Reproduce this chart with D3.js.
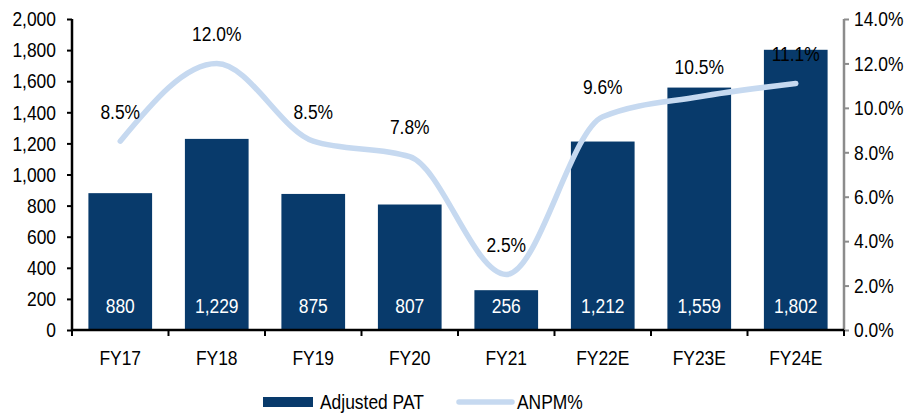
<!DOCTYPE html>
<html>
<head>
<meta charset="utf-8">
<script src="https://cdn.jsdelivr.net/npm/d3@7"></script>
<style>
  html, body { margin: 0; padding: 0; background: #fff; }
  svg { display: block; font-family: "Liberation Sans", Arial, sans-serif; }
</style>
</head>
<body>
<div id="chart"></div>
<script>
(function() {
    'use strict';

    // Data
    var years = ['FY17', 'FY18', 'FY19', 'FY20', 'FY21', 'FY22E', 'FY23E', 'FY24E'];
    var adjustedPat = [880, 1229, 875, 807, 256, 1212, 1559, 1802];
    var anpm = [8.5, 12.0, 8.5, 7.8, 2.5, 9.6, 10.5, 11.1];
    var leftTicks = [0, 200, 400, 600, 800, 1000, 1200, 1400, 1600, 1800, 2000];
    var rightTicks = [0, 2, 4, 6, 8, 10, 12, 14];

    var width = 914, height = 414;
    var margin = { top: 19, right: 70, bottom: 84, left: 72 };
    var plotW = width - margin.left - margin.right;
    var plotH = height - margin.top - margin.bottom;

    var barColor = '#083a6b';
    var lineColor = '#c6d9f0';
    var fontSize = 21;
    var squeeze = 0.83;   // fake a narrow face

    // turn x/y of text into a translate + horizontal squeeze
    function narrow(sel) {
        sel.each(function() {
            var t = d3.select(this);
            var tx = +t.attr('x') || 0;
            var ty = +t.attr('y') || 0;
            t.attr('x', 0).attr('y', 0)
                .attr('transform', 'translate(' + tx + ',' + ty + ') scale(' + squeeze + ',1)');
        });
    }

    var svg = d3.select('#chart').append('svg')
        .attr('width', width)
        .attr('height', height);

    var g = svg.append('g')
        .attr('transform', 'translate(' + margin.left + ',' + margin.top + ')');

    var x = d3.scaleBand()
        .domain(years)
        .range([0, plotW])
        .paddingInner(0.34)
        .paddingOuter(0.17);

    var yLeft = d3.scaleLinear().domain([0, 2000]).range([plotH, 0]);
    var yRight = d3.scaleLinear().domain([0, 14]).range([plotH, 0]);

    // Bars
    g.selectAll('rect.bar')
        .data(adjustedPat)
        .join('rect')
        .attr('class', 'bar')
        .attr('x', function(d, i) { return x(years[i]); })
        .attr('y', function(d) { return yLeft(d); })
        .attr('width', x.bandwidth())
        .attr('height', function(d) { return plotH - yLeft(d); })
        .attr('fill', barColor);

    // Bar values inside bars
    g.selectAll('text.barval')
        .data(adjustedPat)
        .join('text')
        .attr('class', 'barval')
        .attr('x', function(d, i) { return x(years[i]) + x.bandwidth() / 2; })
        .attr('y', plotH - 24)
        .attr('dy', '0.35em')
        .attr('text-anchor', 'middle')
        .attr('fill', '#fff')
        .style('font-size', fontSize + 'px')
        .text(function(d) { return d3.format(',')(d); })
        .call(narrow);

    // Line (smoothed)
    var line = d3.line()
        .x(function(d, i) { return x(years[i]) + x.bandwidth() / 2; })
        .y(function(d) { return yRight(d); })
        .curve(d3.curveMonotoneX);

    g.append('path')
        .datum(anpm)
        .attr('fill', 'none')
        .attr('stroke', lineColor)
        .attr('stroke-width', 5.5)
        .attr('stroke-linecap', 'round')
        .attr('d', line);

    // Line labels
    g.selectAll('text.lineval')
        .data(anpm)
        .join('text')
        .attr('class', 'lineval')
        .attr('x', function(d, i) { return x(years[i]) + x.bandwidth() / 2; })
        .attr('y', function(d) { return yRight(d) - 30; })
        .attr('dy', '0.35em')
        .attr('text-anchor', 'middle')
        .attr('fill', '#000')
        .style('font-size', fontSize + 'px')
        .text(function(d) { return d.toFixed(1) + '%'; })
        .call(narrow);

    // Left axis
    var leftAxis = g.append('g')
        .call(d3.axisLeft(yLeft).tickValues(leftTicks).tickSize(5).tickPadding(11)
            .tickFormat(d3.format(',')));
    leftAxis.attr('font-family', null).attr('font-size', null);
    leftAxis.select('.domain').attr('stroke', '#000').attr('stroke-width', 2.5)
        .attr('d', 'M0,' + plotH + 'V0');
    leftAxis.selectAll('.tick line').attr('stroke', '#000').attr('stroke-width', 2);
    leftAxis.selectAll('.tick text').style('font-size', fontSize + 'px').attr('fill', '#000')
        .call(narrow);

    // Right axis
    var rightAxis = g.append('g')
        .attr('transform', 'translate(' + plotW + ',0)')
        .call(d3.axisRight(yRight).tickValues(rightTicks).tickSize(5).tickPadding(5)
            .tickFormat(function(d) { return d.toFixed(1) + '%'; }));
    rightAxis.attr('font-family', null).attr('font-size', null);
    rightAxis.select('.domain').attr('stroke', '#8c8c8c').attr('stroke-width', 2.5)
        .attr('d', 'M0,' + plotH + 'V0');
    rightAxis.selectAll('.tick line').attr('stroke', '#8c8c8c').attr('stroke-width', 2);
    rightAxis.selectAll('.tick text').style('font-size', fontSize + 'px').attr('fill', '#000')
        .call(narrow);

    // Bottom axis
    var bottom = g.append('g')
        .attr('transform', 'translate(0,' + plotH + ')');
    bottom.append('line')
        .attr('x1', 0).attr('x2', plotW)
        .attr('stroke', '#000').attr('stroke-width', 2.5);
    var step = x.step();
    var bounds = d3.range(years.length + 1).map(function(i) {
        return i < years.length ? x(years[i]) - x.paddingInner() * step / 2 : plotW;
    });
    bounds[0] = 0;
    bottom.selectAll('line.tk')
        .data(bounds)
        .join('line')
        .attr('class', 'tk')
        .attr('x1', function(d) { return d; })
        .attr('x2', function(d) { return d; })
        .attr('y1', 0).attr('y2', 6)
        .attr('stroke', '#000').attr('stroke-width', 2);
    bottom.selectAll('text')
        .data(years)
        .join('text')
        .attr('x', function(d) { return x(d) + x.bandwidth() / 2; })
        .attr('y', 28)
        .attr('dy', '0.35em')
        .attr('text-anchor', 'middle')
        .style('font-size', fontSize + 'px')
        .text(function(d) { return d; })
        .call(narrow);

    // Legend
    var legend = svg.append('g').attr('transform', 'translate(263,402)');
    legend.append('rect')
        .attr('x', 0).attr('y', -5).attr('width', 50).attr('height', 10)
        .attr('fill', barColor);
    legend.append('text')
        .attr('x', 57).attr('dy', '0.35em')
        .style('font-size', fontSize + 'px')
        .text('Adjusted PAT')
        .call(narrow);
    legend.append('line')
        .attr('x1', 196).attr('x2', 249)
        .attr('stroke', lineColor).attr('stroke-width', 5.5)
        .attr('stroke-linecap', 'round');
    legend.append('text')
        .attr('x', 254).attr('dy', '0.35em')
        .style('font-size', fontSize + 'px')
        .text('ANPM%')
        .call(narrow);
})();
</script>
</body>
</html>
